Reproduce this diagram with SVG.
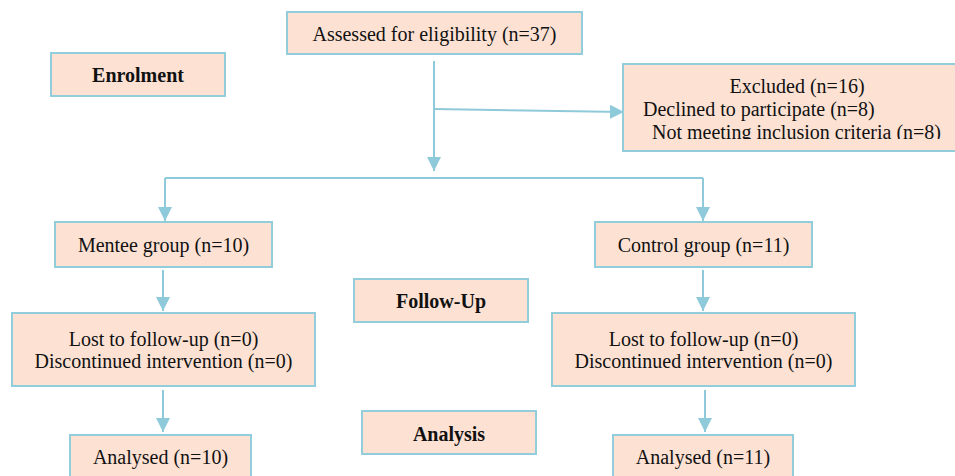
<svg xmlns="http://www.w3.org/2000/svg" width="955" height="476" viewBox="0 0 955 476">
<style>
.box{fill:#fde2d4;stroke:#92cddc;stroke-width:2}
.t{font-family:"Liberation Serif","Times New Roman",serif;font-size:20px;fill:#111}
.b{font-weight:bold}
.c{text-anchor:middle}
.ln{stroke:#8ecad9;stroke-width:2;fill:none}
</style>
<defs>
<marker id="ah" markerUnits="userSpaceOnUse" markerWidth="16" markerHeight="16" refX="14" refY="7" orient="auto">
<path d="M0,0 L14,7 L0,14 Z" fill="#8ecad9"/>
</marker>
<clipPath id="exclip"><rect x="620" y="60" width="335" height="79"/></clipPath>
</defs>
<rect width="955" height="476" fill="#fff"/>
<g id="connectors">
<path class="ln" d="M434,61 V171" marker-end="url(#ah)"/>
<path class="ln" d="M434,109 L624,112" marker-end="url(#ah)"/>
<path class="ln" d="M165,178 H703"/>
<path class="ln" d="M165,178 V221" marker-end="url(#ah)"/>
<path class="ln" d="M703,178 V221" marker-end="url(#ah)"/>
<path class="ln" d="M163,270 V311" marker-end="url(#ah)"/>
<path class="ln" d="M703,270 V311" marker-end="url(#ah)"/>
<path class="ln" d="M163,390 V432" marker-end="url(#ah)"/>
<path class="ln" d="M705,390 V432" marker-end="url(#ah)"/>
</g>
<g id="assessed">
<rect class="box" x="287" y="12" width="295" height="42"/>
<text class="t c" x="434.5" y="41">Assessed for eligibility (n=37)</text>
</g>
<g id="enrolment">
<rect class="box" x="51" y="53" width="174" height="43"/>
<text class="t b c" x="138" y="82">Enrolment</text>
</g>
<g id="excluded">
<rect class="box" x="623" y="64" width="340" height="87"/>
<g clip-path="url(#exclip)">
<text class="t c" x="797" y="93">Excluded (n=16)</text>
<text class="t" x="643" y="116">Declined to participate (n=8)</text>
<text class="t" x="652" y="139">Not meeting inclusion criteria (n=8)</text>
</g>
</g>
<g id="mentee">
<rect class="box" x="55" y="222" width="217" height="45"/>
<text class="t c" x="163.5" y="252">Mentee group (n=10)</text>
</g>
<g id="control">
<rect class="box" x="595" y="222" width="217" height="45"/>
<text class="t c" x="703.5" y="252">Control group (n=11)</text>
</g>
<g id="followup">
<rect class="box" x="354" y="279" width="174" height="43"/>
<text class="t b c" x="441" y="308">Follow-Up</text>
</g>
<g id="lost-left">
<rect class="box" x="12" y="313" width="303" height="73"/>
<text class="t c" x="163.5" y="346">Lost to follow-up (n=0)</text>
<text class="t c" x="163.5" y="368">Discontinued intervention (n=0)</text>
</g>
<g id="lost-right">
<rect class="box" x="552" y="313" width="303" height="73"/>
<text class="t c" x="703.5" y="346">Lost to follow-up (n=0)</text>
<text class="t c" x="703.5" y="368">Discontinued intervention (n=0)</text>
</g>
<g id="analysis">
<rect class="box" x="362" y="411" width="174" height="43"/>
<text class="t b c" x="449" y="441">Analysis</text>
</g>
<g id="analysed-left">
<rect class="box" x="70" y="435" width="181" height="50"/>
<text class="t c" x="160.5" y="464">Analysed (n=10)</text>
</g>
<g id="analysed-right">
<rect class="box" x="613" y="435" width="180" height="50"/>
<text class="t c" x="703" y="464">Analysed (n=11)</text>
</g>
</svg>
